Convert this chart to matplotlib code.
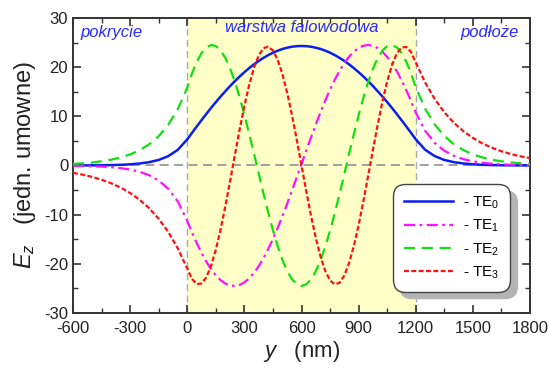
import numpy as np
import matplotlib
matplotlib.use("Agg")
import matplotlib.pyplot as plt
from matplotlib.ticker import MultipleLocator

plt.rcParams['font.family'] = ['Liberation Sans', 'DejaVu Sans']
plt.rcParams['mathtext.fontset'] = 'custom'
plt.rcParams['mathtext.rm'] = 'Liberation Sans'
plt.rcParams['mathtext.it'] = 'Liberation Sans:italic'
plt.rcParams['axes.unicode_minus'] = False

# sample positions (nm)
y_nm = np.concatenate([np.arange(-600, 0, 50), np.arange(0, 1201, 25), np.arange(1250, 1801, 50)])

te0 = [0.011, 0.018, 0.031, 0.052, 0.087, 0.14, 0.24, 0.41, 0.68, 1.13, 1.90, 3.18,
       5.32, 6.64, 7.95, 9.23, 10.48, 11.71, 12.88, 14.02, 15.10, 16.16, 17.15, 18.09, 18.97,
       19.80, 20.56, 21.25, 21.88, 22.44, 22.93, 23.35, 23.69, 23.95, 24.15, 24.26, 24.30,
       24.26, 24.15, 23.95, 23.69, 23.35, 22.93, 22.44, 21.88, 21.25, 20.56, 19.80, 18.97,
       18.09, 17.15, 16.16, 15.10, 14.02, 12.88, 11.71, 10.48, 9.23, 7.95, 6.64, 5.32,
       3.18, 1.90, 1.13, 0.68, 0.41, 0.24, 0.14, 0.087, 0.052, 0.031, 0.018, 0.011]

te1 = [-0.06, -0.09, -0.15, -0.22, -0.35, -0.54, -0.83, -1.28, -1.98, -3.06, -4.73, -7.30,
       -11.28, -13.62, -15.80, -17.79, -19.55, -21.07, -22.33, -23.32, -24.01, -24.40, -24.49,
       -24.28, -23.77, -22.96, -21.86, -20.50, -18.88, -17.02, -14.95, -12.70, -10.29, -7.75,
       -5.12, -2.42, 0.31, 3.03, 5.72, 8.33, 10.84, 13.22, 15.44, 17.46, 19.26, 20.82, 22.14,
       23.16, 23.91, 24.35, 24.50, 24.34, 23.88, 23.12, 22.07, 20.75, 19.18, 17.36, 15.33,
       13.11, 10.73,
       7.02, 4.59, 3.00, 1.96, 1.28, 0.84, 0.55, 0.36, 0.23, 0.15, 0.10, 0.07]

te2 = [0.32, 0.44, 0.61, 0.85, 1.18, 1.63, 2.25, 3.12, 4.31, 5.97, 8.26, 11.44,
       15.83, 18.72, 21.08, 22.86, 24.01, 24.49, 24.28, 23.40, 21.87, 19.73, 17.04, 13.88,
       10.33, 6.49, 2.48, -1.61, -5.65, -9.54, -13.15, -16.41, -19.21, -21.48, -23.13, -24.15,
       -24.50, -24.17, -23.16, -21.51, -19.26, -16.48, -13.24, -9.63, -5.75, -1.71, 2.38, 6.40,
       10.24, 13.80, 16.97, 19.67, 21.82, 23.37, 24.27, 24.49, 24.03, 22.90, 21.13, 18.78, 15.90,
       11.49, 8.30, 6.00, 4.33, 3.13, 2.26, 1.63, 1.18, 0.85, 0.62, 0.45, 0.32]

te3 = [-1.50, -1.86, -2.32, -2.89, -3.61, -4.49, -5.60, -6.98, -8.69, -10.83, -13.50, -16.82,
       -20.96, -23.08, -24.11, -23.99, -22.74, -20.41, -17.11, -13.00, -8.28, -3.16, 2.11, 7.28,
       12.10, 16.35, 19.82, 22.36, 23.83, 24.18, 23.38, 21.47, 18.54, 14.73, 10.23, 5.24, 0.00,
       -5.24, -10.23, -14.73, -18.54, -21.47, -23.38, -24.18, -23.83, -22.36, -19.82, -16.35,
       -12.10, -7.28, -2.11, 3.16, 8.28, 13.00, 17.11, 20.41, 22.74, 23.99, 24.11, 23.08, 20.96,
       16.82, 13.50, 10.83, 8.69, 6.98, 5.60, 4.49, 3.61, 2.89, 2.32, 1.86, 1.50]

labels = ["- TE$_0$", "- TE$_1$", "- TE$_2$", "- TE$_3$"]
core = (0, 1200)
regions = ["pokrycie", "warstwa falowodowa", "podłoże"]

fig = plt.figure(figsize=(5.49, 3.74), dpi=100)
ax = fig.add_axes([0.133, 0.163, 0.8324, 0.789])

ax.axvspan(core[0], core[1], color='#ffffc8', zorder=0, lw=0)
for xv in core:
    ax.axvline(xv, color='#aaaaaa', ls=(0, (5, 3)), lw=1.0, zorder=1)
ax.axhline(0, color='#999999', ls=(0, (5, 3)), lw=1.3, zorder=1)

ax.plot(y_nm, te0, color='#0a1ef0', lw=1.8, ls='-', label=labels[0], zorder=3)
ax.plot(y_nm, te1, color='#ff10ff', lw=1.6, ls=(0, (5, 2, 1.2, 2)), label=labels[1], zorder=3)
ax.plot(y_nm, te2, color='#10e010', lw=1.6, ls=(0, (5, 3)), label=labels[2], zorder=3)
ax.plot(y_nm, te3, color='#ff1010', lw=1.6, ls=(0, (2.2, 1.1)), label=labels[3], zorder=3)

ax.set_xlim(-600, 1800)
ax.set_ylim(-30, 30)
ax.xaxis.set_major_locator(MultipleLocator(300))
ax.xaxis.set_minor_locator(MultipleLocator(150))
ax.yaxis.set_major_locator(MultipleLocator(10))
ax.yaxis.set_minor_locator(MultipleLocator(5))
ax.tick_params(which='both', direction='in', top=True, right=True, colors='#333333',
               labelcolor='#222222', labelsize=12)
ax.tick_params(which='major', length=6, width=1.2)
ax.tick_params(which='minor', length=3.5, width=1.0)
ax.tick_params(axis='x', pad=6)
for s in ax.spines.values():
    s.set_color('#333333')
    s.set_linewidth(1.4)

ax.set_xlabel(r"$y$   (nm)", fontsize=16, color='#222222', labelpad=2)
ax.set_ylabel(r"$E_z$   (jedn. umowne)", fontsize=17, color='#222222', labelpad=4)

tc = '#2a2aff'
ax.text(-560, 27.0, regions[0], color=tc, fontsize=12, style='italic', ha='left', va='center')
ax.text(600, 28.0, regions[1], color=tc, fontsize=12, style='italic', ha='center', va='center')
ax.text(1740, 27.0, regions[2], color=tc, fontsize=12, style='italic', ha='right', va='center')

leg = ax.legend(loc='upper left', bbox_to_anchor=(0.707, 0.427), borderaxespad=0,
                fontsize=11, handlelength=3.2, handletextpad=0.7, labelspacing=0.45,
                borderpad=0.5, fancybox=True, framealpha=1, edgecolor='#444444',
                shadow={'ox': 5, 'oy': -5, 'color': '#b4b4b4', 'alpha': 1})
leg.get_frame().set_linewidth(1.0)
leg.get_frame().set_boxstyle('round', pad=0.2, rounding_size=0.8)

fig.savefig("out.png", dpi=100)
